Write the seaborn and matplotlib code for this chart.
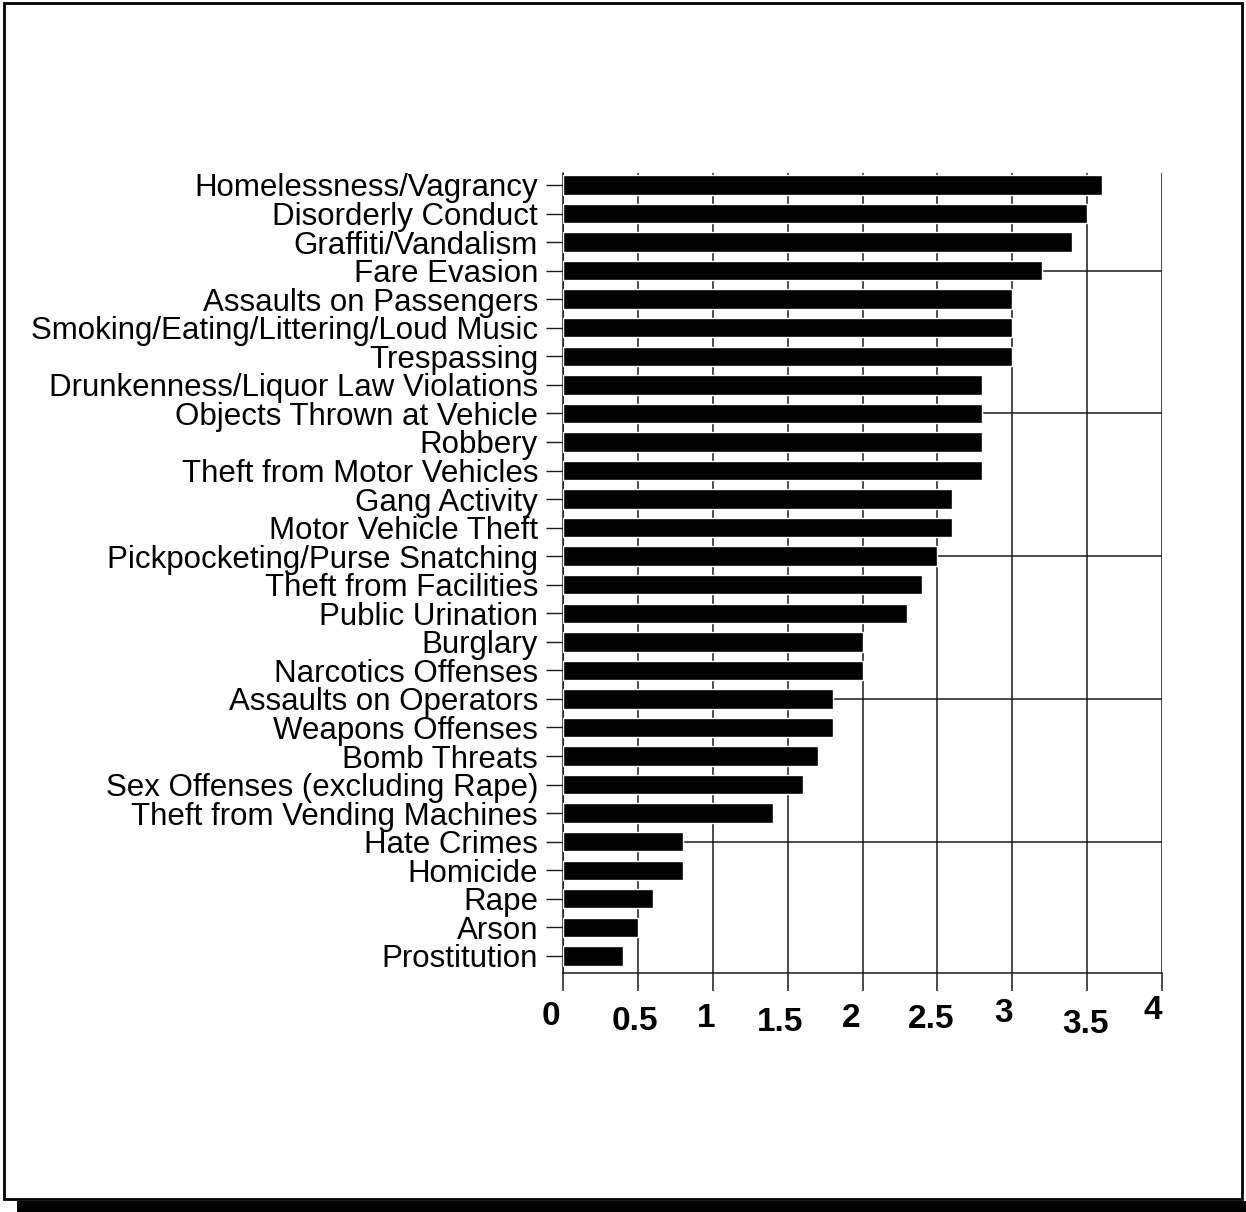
import pandas as pd
import matplotlib.pyplot as plt
import seaborn as sns
from matplotlib.patches import Rectangle
from matplotlib.transforms import ScaledTranslation

# Categorias e valores
categorias = [
    'Homelessness/Vagrancy', 'Disorderly Conduct', 'Graffiti/Vandalism',
    'Fare Evasion', 'Assaults on Passengers',
    'Smoking/Eating/Littering/Loud Music', 'Trespassing',
    'Drunkenness/Liquor Law Violations', 'Objects Thrown at Vehicle',
    'Robbery', 'Theft from Motor Vehicles', 'Gang Activity',
    'Motor Vehicle Theft', 'Pickpocketing/Purse Snatching',
    'Theft from Facilities', 'Public Urination', 'Burglary',
    'Narcotics Offenses', 'Assaults on Operators', 'Weapons Offenses',
    'Bomb Threats', 'Sex Offenses (excluding Rape)',
    'Theft from Vending Machines', 'Hate Crimes', 'Homicide', 'Rape',
    'Arson', 'Prostitution',
]
valores = [3.6, 3.5, 3.4, 3.2, 3.0, 3.0, 3.0, 2.8, 2.8, 2.8, 2.8, 2.6,
           2.6, 2.5, 2.4, 2.3, 2.0, 2.0, 1.8, 1.8, 1.7, 1.6, 1.4, 0.8,
           0.8, 0.6, 0.5, 0.4]
xticks = [0, 0.5, 1, 1.5, 2, 2.5, 3, 3.5, 4]
xtick_labels = ['0', '0.5', '1', '1.5', '2', '2.5', '3', '3.5', '4']
linhas_horizontais = [3, 8, 13, 18, 23]

df = pd.DataFrame({'Categoria': categorias, 'Valor': valores})

sns.set_style('white')
plt.rcParams['font.family'] = ['Liberation Sans', 'DejaVu Sans']
plt.rcParams['text.color'] = 'black'
plt.rcParams['xtick.color'] = 'black'
plt.rcParams['ytick.color'] = 'black'

fig = plt.figure(figsize=(12.46, 12.12), dpi=100)
ax = fig.add_axes([563 / 1246, 1 - 973 / 1212, 599 / 1246, 800 / 1212])

sns.barplot(data=df, x='Valor', y='Categoria', orient='h', color='black',
            saturation=1, width=0.68, ax=ax, zorder=3)

ax.set_xlim(0, 4)
ax.set_ylim(27.6, -0.42)
ax.set_xlabel('')
ax.set_ylabel('')

# grade vertical a cada 0.5 e linhas horizontais a cada 5 categorias
ax.set_xticks(xticks)
ax.set_xticklabels(xtick_labels, fontsize=24, fontweight='bold', color='black')
ax.set_yticks(range(len(categorias)))
ax.set_yticklabels(categorias, fontsize=22.5, color='black')
ax.yaxis.remove_overlapping_locs = False
ax.set_yticks(linhas_horizontais, minor=True)
ax.grid(True, axis='x', color='#1a1a1a', linewidth=1.1, zorder=0)
ax.grid(True, axis='y', which='minor', color='#1a1a1a', linewidth=1.1, zorder=0)
ax.set_axisbelow(True)

ax.tick_params(axis='x', which='major', direction='out', length=13, width=1.1,
               color='#1a1a1a', pad=7, bottom=True)
ax.tick_params(axis='y', which='major', direction='out', length=12, width=1,
               color='#1a1a1a', pad=6, left=True)
ax.tick_params(axis='y', which='minor', length=0)

for lado in ['top', 'right']:
    ax.spines[lado].set_visible(False)
for lado in ['left', 'bottom']:
    ax.spines[lado].set_color('#1a1a1a')
    ax.spines[lado].set_linewidth(1.1)

# deslocamento irregular dos rotulos do eixo x (como no original)
dx = [-12, -3, -7, -8, -11, -6, -9, -2, -9]
dy = [0, -5, -2, -6, -2, -3, 3, -8, 6]
for lab, a, b in zip(ax.get_xticklabels(), dx, dy):
    lab.set_transform(lab.get_transform() +
                      ScaledTranslation(a / 100, b / 100, fig.dpi_scale_trans))

# moldura da figura com sombra embaixo
fig.patches.append(Rectangle((4 / 1246, 1 - 1199 / 1212), 1238 / 1246,
                             1196 / 1212, transform=fig.transFigure,
                             fill=False, edgecolor='black', linewidth=2))
fig.patches.append(Rectangle((17 / 1246, 0), 1229 / 1246, 11 / 1212,
                             transform=fig.transFigure, facecolor='black',
                             edgecolor='none'))

plt.savefig('out.png', dpi=100)
